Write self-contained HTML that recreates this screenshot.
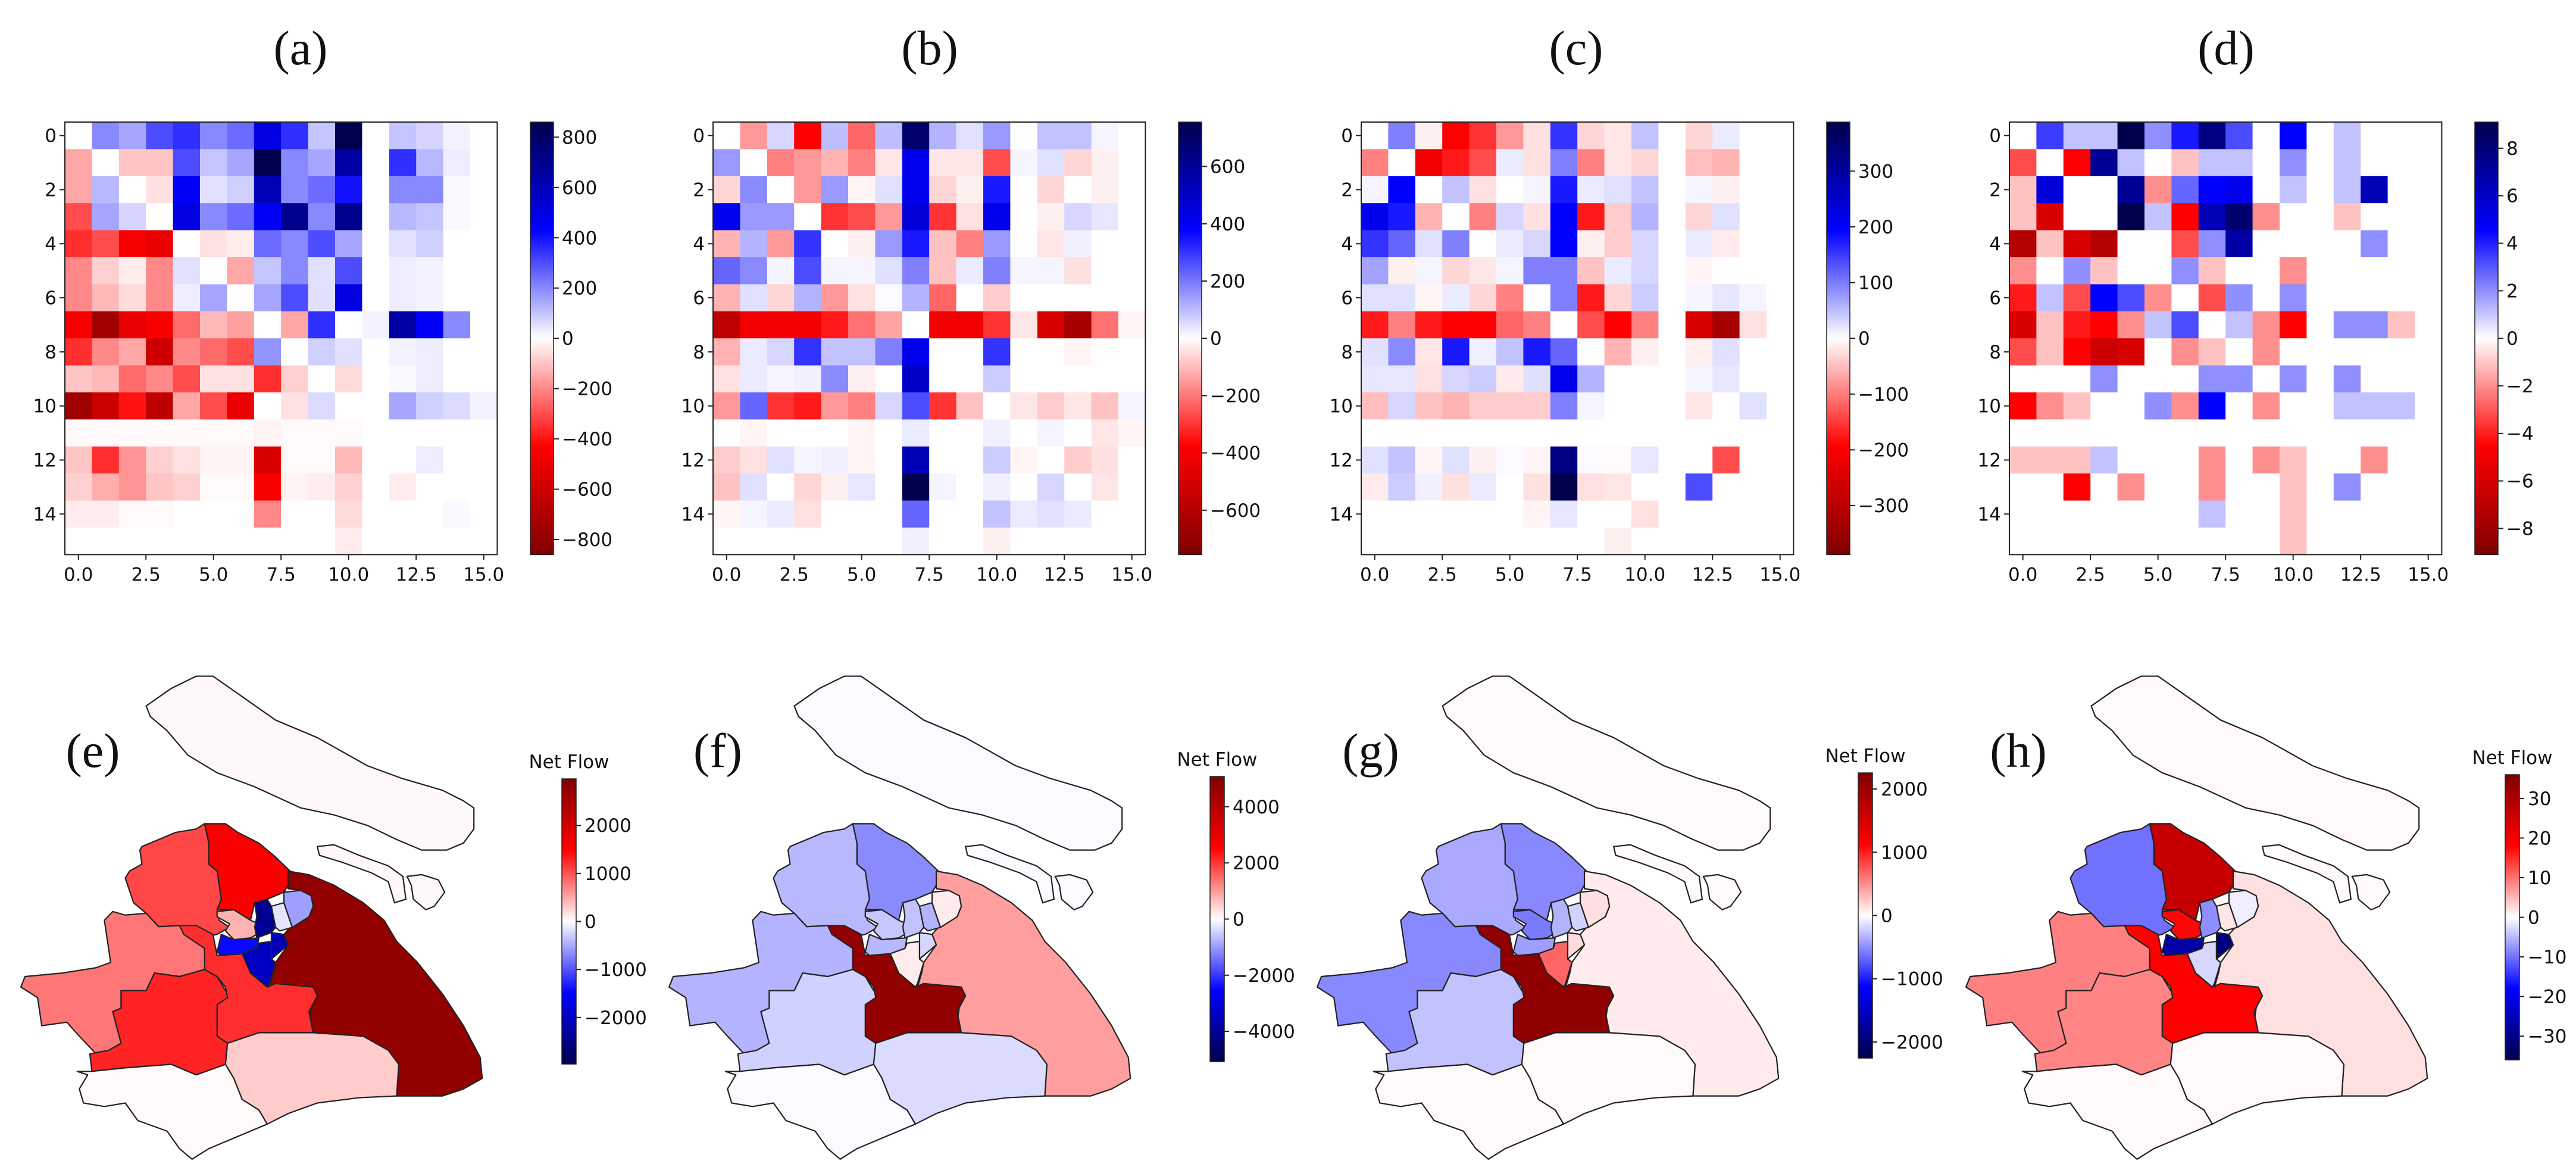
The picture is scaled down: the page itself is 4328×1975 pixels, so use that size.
<!DOCTYPE html>
<html><head><meta charset="utf-8">
<style>
html,body{margin:0;padding:0;background:#fff;}
svg{display:block;}
.t{font-family:"DejaVu Sans","Liberation Sans",sans-serif;font-size:31px;fill:#111;}
.ttl{font-family:"Liberation Serif",serif;font-size:82px;fill:#111;}
</style></head>
<body>
<svg id="fig" xmlns="http://www.w3.org/2000/svg" width="4328" height="1975" viewBox="0 0 4328 1975">
<defs id="defs"></defs>
<rect width="4328" height="1975" fill="#fff"/>
<g id="root"></g>
</svg>
<script>
// ---------- heatmap data (a in hundreds, b/c/d in tenths of colour max) ----------
const gridA = [
[0,2,1.5,3,3.5,2,2.5,5,3.5,1,8.5,0,1,0.7,0.2,0],
[-1.5,0,-1,-1,3,1,1.5,8.5,2,1.5,6.5,0,3.5,1.2,0.3,0],
[-1.5,1.2,0,-0.5,4.5,0.5,0.8,6,2,2.5,4,0,2,2,0.1,0],
[-3,1.5,0.7,0,5,2,2.5,4.5,7,2,7,0,1.2,1,0.1,0],
[-3.5,-3,-4.5,-5,0,-0.5,-0.3,2.5,2,3,1.5,0,0.5,0.8,0,0],
[-2,-0.8,-0.3,-2,0.5,0,-1.5,1,2,0.5,3,0,0.3,0.2,0,0],
[-2,-1.2,-0.6,-2,0.3,1.5,0,1.5,3,0.5,5,0,0.3,0.2,0,0],
[-4.5,-7.5,-5,-4.5,-2.5,-1.2,-1.6,0,-1.5,3.5,0,0.2,6.5,4.5,2,0],
[-3.5,-2,-1.5,-6,-2,-2.5,-3,1.8,0,0.8,0.5,0,0.2,0.3,0,0],
[-1,-1.2,-2.5,-2,-3,-0.5,-0.5,-3.5,-0.8,0,-0.6,0,0.1,0.3,0,0],
[-7.5,-6,-4,-6.5,-1.5,-3,-5,0,-0.5,0.6,0,0,1.5,0.8,0.6,0.2],
[-0.1,-0.1,-0.1,-0.1,-0.1,-0.1,-0.1,-0.2,-0.1,-0.1,-0.1,0,0,0,0,0],
[-1,-3.5,-1.8,-0.8,-0.5,-0.2,-0.2,-5.5,-0.1,-0.1,-1.2,0,0,0.3,0,0],
[-0.8,-1.4,-1.8,-1,-0.8,-0.1,-0.1,-4.5,-0.2,-0.3,-0.8,0,-0.3,0,0,0],
[-0.3,-0.3,-0.1,-0.1,0,0,0,-2,0,0,-0.6,0,0,0,0.1,0],
[0,0,0,0,0,0,0,0,0,0,-0.3,0,0,0,0,0]];
const gridB = [
[0,-2,0.8,-5,1.3,-3,1.3,9,1.5,0.6,2,0,1.2,1.2,0.2,0],
[2,0,-2.5,-2,-1.5,-2.5,-0.5,5.5,-0.5,-0.5,-3.5,0.2,0.6,-0.8,-0.3,0],
[-0.8,2.3,0,-2,2,-0.2,0.6,5.5,-0.8,-0.3,4.5,0,-0.8,0,-0.3,0],
[5.5,2,2,0,-4,-3.5,-2,6,-4,-0.6,5.5,0,-0.3,0.8,0.5,0],
[-1.5,1.5,-2,4,0,-0.3,2,4.5,-1.2,-2.5,2,0,-0.5,0.3,0,0],
[3,2.3,0.2,3.5,0.2,0.2,0.6,2.5,-1.2,0.4,2.5,0.2,0.2,-0.6,0,0],
[-1.5,0.6,-0.8,1.5,-2,-0.6,0.1,1.5,-3,0,-1,0,0,0,0,0],
[-7.5,-5.5,-5.5,-5.5,-4.5,-2.8,-1.8,0,-5.5,-5.5,-4,-0.5,-6.5,-8.5,-2.8,-0.2],
[-1.5,0.4,0.8,4,1.2,1.2,2.5,5.5,0,0,4,0,0,-0.2,0,0],
[-0.6,0.4,0.2,0.3,2.3,-0.3,0,6.5,0,0,1,0,0,0,0,0],
[-2,3,-4,-4.5,-2,-2.5,0.8,3.5,-4,-1.2,0,-0.5,-1,-0.5,-1.2,0.2],
[0,-0.2,0,0,0,-0.2,0,0.4,0,0,0.3,0,0.2,0,-0.5,-0.2],
[-1,-0.6,0.6,0.2,0.3,-0.2,0,7,0,0,1,-0.2,0,-1,-0.6,0],
[-1.2,0.6,0,-0.8,-0.3,0.5,0,10,0.2,0,0.3,0,0.8,0,-0.5,0],
[-0.2,0.2,0.4,-0.6,0,0,0,3,0,0,1.2,0.4,0.6,0.4,0,0],
[0,0,0,0,0,0,0,0.3,0,0,-0.3,0,0,0,0,0]];
const gridC = [
[0,2.5,-0.3,-5,-4,-2,-0.6,4,-0.8,-0.5,1.2,0,-0.8,0.4,0,0],
[-2.5,0,-5.5,-4.5,-3.5,0.4,-0.6,2.5,-2.5,-0.5,-0.8,0,-1.3,-1.5,0,0],
[0.2,5,0,1.2,-0.6,0,0.2,4.5,0.4,0.6,1.2,0,0.2,-0.3,0,0],
[5.5,4.5,-1.5,0,-2.5,0.8,-0.6,5,-4.5,-1,1.5,0,-0.8,0.6,0,0],
[4,3,0.6,2.5,0,0.4,0.8,5,-0.3,-1,0.8,0,0.4,-0.4,0,0],
[1.8,-0.3,0.2,-0.8,-0.5,0.2,2.5,2.5,-1.2,0.4,0.8,0,-0.2,0,0,0],
[0.6,0.6,-0.2,0.4,-0.8,-2.5,0,2.5,-4.5,-0.8,1,0,0.2,0.5,0.2,0],
[-4.5,-2.5,-4.5,-5,-5,-3,-2.5,0,-3.5,-5,-2.5,0,-6.5,-8.5,-0.6,0],
[0.6,2.3,-0.5,4.5,0.3,1.2,4.5,3,0,-1.5,-0.3,0,-0.3,0.6,0,0],
[0.5,0.5,-0.6,0.8,1,-0.4,0.6,5.5,1.5,0,0,0,0.2,0.5,0,0],
[-1.3,0.8,-1.2,-1.5,-1,-1,-1,2.5,0.2,0,0,0,-0.5,0,0.6,0],
[0,0,0,0,0,0,0,0,0,0,0,0,0,0,0,0],
[0.6,1.2,-0.2,0.6,-0.3,0.1,-0.2,8.5,0.1,-0.1,0.5,0,0,-3.5,0,0],
[-0.4,1,0.3,-0.6,0.4,0,-0.6,10,-0.6,-0.5,0,0,3.5,0,0,0],
[0,0,0,0,0,0,-0.2,0.5,0,0,-0.6,0,0,0,0,0],
[0,0,0,0,0,0,0,0,0,-0.3,0,0,0,0,0,0]];
const gridD = [
[0,3.8,1.2,1.2,10,2.2,4.5,8.5,3.5,0,5,0,1.2,0,0,0],
[-3.5,0,-5,8,1.2,0,-1.2,1.2,1.2,0,2.2,0,1.2,0,0,0],
[-1.2,6,0,0,8,-2.2,3,5,5.5,0,1.2,0,1.2,7,0,0],
[-1.2,-6.5,0,0,10,1.2,-5,7,9,-2.2,0,0,-1.2,0,0,0],
[-8,-1.2,-6.5,-8,0,0,-3.5,2.2,7.5,0,0,0,0,2.2,0,0],
[-2.2,0,2.2,-1.2,0,0,2.2,-1.2,0,0,-2.2,0,0,0,0,0],
[-4.5,1.2,-3.5,5,3.5,-2.2,0,-3.5,2.2,0,2.2,0,0,0,0,0],
[-6.5,-1.2,-4.5,-5,-2.2,1.2,3.5,0,1.2,-2.2,-5,0,2.2,2.2,-1.2,0],
[-3.5,-1.2,-5,-7,-6.5,0,-2.2,-1.2,0,-2.2,0,0,0,0,0,0],
[0,0,0,2.2,0,0,0,2.2,2.2,0,2.2,0,2.2,0,0,0],
[-5,-2.2,-1.2,0,0,2.2,-2.2,5,0,-2.2,0,0,1.2,1.2,1.2,0],
[0,0,0,0,0,0,0,0,0,0,0,0,0,0,0,0],
[-1.2,-1.2,-1.2,1.2,0,0,0,-2.2,0,-2.2,-1.2,0,0,-2.2,0,0],
[0,0,-5,0,-2.2,0,0,-2.2,0,0,-1.2,0,2.2,0,0,0],
[0,0,0,0,0,0,0,1.2,0,0,-1.2,0,0,0,0,0],
[0,0,0,0,0,0,0,0,0,0,-1.2,0,0,0,0,0]];
const heatLabels = ["(a)","(b)","(c)","(d)"];
const heatUnits = [100, 75.5, 38.8, 0.91];
const heatVmax = [860, 755, 388, 9.1];
const heatTicksA = [800,600,400,200,0,-200,-400,-600,-800];
const heatTicksB = [600,400,200,0,-200,-400,-600];
const heatTicksC = [300,200,100,0,-100,-200,-300];
const heatTicksD = [8,6,4,2,0,-2,-4,-6,-8];
const xTickVals = [0,2.5,5,7.5,10,12.5,15];
const yTickVals = [0,2,4,6,8,10,12,14];

// ---------- map data (net flow) ----------
const districts = ["chongming","baoshan","jiading","pudong","qingpu","songjiang","minhang","fengxian","jinshan","putuo","changning","xuhui","huangpu","jingan","hongkou","yangpu"];
const flowE = [40,1540,1070,2760,800,1280,1220,300,30,450,-1430,-1990,-2080,-2380,-150,-560];
const flowF = [-50,-1170,-710,970,-760,-460,4720,-360,-50,-560,-710,200,-410,-610,-760,200];
const flowG = [20,-520,-380,90,-520,-270,2100,20,20,-590,-430,680,160,-340,-200,140];
const flowH = [0.4,26,-10,2.2,9,8.6,18,0.4,0.4,17.6,-27,-2.9,-31,-8,1.8,-1.1];
const mapLabels = ["(e)","(f)","(g)","(h)"];
const mapVmax = [2970, 5080, 2255, 36];
const mapTicksE = [2000,1000,0,-1000,-2000];
const mapTicksF = [4000,2000,0,-2000,-4000];
const mapTicksG = [2000,1000,0,-1000,-2000];
const mapTicksH = [30,20,10,0,-10,-20,-30];

const NS="http://www.w3.org/2000/svg";
const root=document.getElementById('root');
const defs=document.getElementById('defs');
function el(tag,attrs,parent){const e=document.createElementNS(NS,tag);for(const k in attrs)e.setAttribute(k,attrs[k]);(parent||root).appendChild(e);return e;}
function seis(f){
  f=Math.max(-1,Math.min(1,f));let r,g,b;
  if(f>=0){ if(f<=0.5){const t=f/0.5;r=1;g=1-t;b=1-t;} else {const t=(f-0.5)/0.5;r=1-0.5*t;g=0;b=0;} }
  else { const a=-f; if(a<=0.5){const t=a/0.5;r=1-t;g=1-t;b=1;} else {const t=(a-0.5)/0.5;r=0;g=0;b=1-0.7*t;} }
  return `rgb(${Math.round(r*255)},${Math.round(g*255)},${Math.round(b*255)})`;
}
function gradient(id,positiveRed){
  const lg=el('linearGradient',{id:id,x1:0,y1:0,x2:0,y2:1},defs);
  for(let i=0;i<=20;i++){const f=1-i/10;el('stop',{offset:(i/20),'stop-color':seis(positiveRed?f:-f)},lg);}
}
gradient('gHeat',false);gradient('gMap',true);

// ---------- heatmaps ----------
const grids=[gridA,gridB,gridC,gridD];
const heatTicks=[heatTicksA,heatTicksB,heatTicksC,heatTicksD];
const frameLefts=[109,1198,2287,3376];
const titleOff=[396,364,361,364];
const TOP=205, CELL=45.4, N=16;
function hx(L,v){return L+(v+0.5)*CELL;}
function hy(v){return TOP+(v+0.5)*CELL;}
for(let p=0;p<4;p++){
  const L=frameLefts[p];
  const g=el('g',{});
  
  
  const tt=el('text',{x:L+titleOff[p],y:108,'text-anchor':'middle',class:'ttl'},g);
  tt.textContent=heatLabels[p];
  
  
  const grid=grids[p];
  for(let r=0;r<N;r++)for(let c=0;c<N;c++){
    const v=grid[r][c]*heatUnits[p];
    const rc=el('rect',{x:hx(L,c)-CELL/2,y:hy(r)-CELL/2,width:CELL+0.6,height:CELL+0.6,fill:seis(-v/heatVmax[p])},g);
    
    
  }
  const fr=el('rect',{x:L,y:TOP,width:CELL*N,height:CELL*N,fill:'none',stroke:'#222','stroke-width':2},g);
  
  
  xTickVals.forEach(v=>{
    const x=hx(L,v);
    el('line',{x1:x,y1:TOP+CELL*N,x2:x,y2:TOP+CELL*N+9,stroke:'#222','stroke-width':2},g);
    const t=el('text',{x:x,y:TOP+CELL*N+44,'text-anchor':'middle',class:'t'},g);
    t.textContent=v.toFixed(1);
    
    
  });
  yTickVals.forEach(v=>{
    const y=hy(v);
    el('line',{x1:L-9,y1:y,x2:L,y2:y,stroke:'#222','stroke-width':2},g);
    const t=el('text',{x:L-14,y:y+11,'text-anchor':'end',class:'t'},g);
    t.textContent=String(v);
    
    
  });
  const cbx=L+782, cbw=39, cbh=CELL*N, vm=heatVmax[p];
  const cb=el('rect',{x:cbx,y:TOP,width:cbw,height:cbh,fill:'url(#gHeat)',stroke:'#222','stroke-width':1.5},g);
  
  
  heatTicks[p].forEach(v=>{
    const y=TOP+cbh/2-(v/vm)*cbh/2;
    el('line',{x1:cbx+cbw,y1:y,x2:cbx+cbw+9,y2:y,stroke:'#222','stroke-width':2},g);
    const t=el('text',{x:cbx+cbw+14,y:y+11,class:'t'},g);
    t.textContent=(v<0?'\u2212'+(-v):String(v));
    
    
  });
}

// ---------- maps ----------
const shapes={
chongming:"350,230 410,180 470,145 510,145 600,220 660,270 760,320 880,400 960,435 1060,470 1110,500 1135,520 1135,580 1110,620 1070,640 1010,640 950,610 880,570 800,540 720,520 610,460 520,420 450,370 400,300 360,260",
changxing:"760,630 800,625 860,655 930,685 965,715 972,780 945,790 930,730 890,705 820,675 765,655",
hengsha:"975,715 1010,710 1050,725 1065,760 1040,800 1020,810 990,780 985,740",
baoshan:"490,565 540,565 570,590 620,620 660,660 695,700 690,740 680,760 640,780 610,790 600,840 560,810 520,810 530,780 520,700 500,680 500,620",
jiading:"340,630 420,590 470,580 490,565 500,620 500,680 520,700 530,780 520,810 525,840 550,860 520,880 500,885 470,860 430,855 380,858 350,820 320,790 300,720 310,700 340,680 335,640",
pudong:"690,700 740,710 800,740 870,790 920,840 950,900 1000,960 1060,1050 1110,1140 1150,1230 1155,1290 1110,1320 1060,1340 950,1340 955,1250 930,1210 870,1170 750,1160 740,1130 750,1050 660,1020 645,1030 655,990 660,960 690,910 680,880 695,860 740,830 750,800 745,770 720,755 690,750",
qingpu:"250,840 270,815 300,825 350,820 380,858 430,855 470,860 500,885 510,970 490,980 430,1000 370,990 350,1040 290,1040 290,1090 270,1100 290,1190 260,1210 230,1220 190,1170 160,1130 100,1140 90,1060 50,1030 60,1000 150,990 230,975 265,960",
songjiang:"290,1040 350,1040 370,990 430,1000 490,980 520,1000 540,1040 555,1060 545,1190 540,1250 470,1280 410,1250 300,1260 220,1270 215,1220 260,1210 290,1190 270,1100 290,1090",
minhang:"430,855 470,855 510,880 520,940 580,935 600,990 640,1030 660,1020 750,1030 760,1055 740,1100 750,1160 620,1160 545,1190 520,1170 520,1080 545,1060 540,1030 520,1000 490,980 490,920 440,880",
fengxian:"545,1190 620,1160 750,1160 870,1170 930,1210 955,1250 950,1340 860,1345 760,1360 690,1390 640,1420 620,1380 580,1350 560,1290 540,1250",
jinshan:"220,1270 300,1260 410,1250 470,1280 540,1250 560,1290 580,1350 620,1380 640,1420 580,1450 500,1490 460,1520 430,1490 400,1440 330,1410 300,1360 250,1370 200,1360 190,1320 210,1280 185,1270",
putuo:"520,815 560,810 600,840 620,850 630,870 600,890 560,895 540,870 550,850 520,830",
changning:"530,880 560,895 620,890 615,920 580,935 530,940 520,930",
xuhui:"620,905 650,900 650,950 660,960 645,1020 640,1030 620,1010 600,990 580,935 615,920",
huangpu:"650,875 680,880 690,910 660,940 650,950 650,900",
jingan:"610,790 640,780 650,800 660,860 650,875 615,890 610,860 615,830",
hongkou:"650,800 680,790 700,860 670,870 660,860",
yangpu:"680,760 720,755 745,770 750,800 740,830 700,860 680,790"};
const flows=[flowE,flowF,flowG,flowH];
const mapTicks=[mapTicksE,mapTicksF,mapTicksG,mapTicksH];
const mapOff=[0,1089,2178,3268];
const labelX=[156,1206,2303,3391];
const cbTop=[1308,1304,1298,1301];
for(let p=0;p<4;p++){
  const g=el('g',{});
  
  
  const mg=el('g',{transform:`translate(${mapOff[p]},1050) scale(0.7015,0.59)`},g);
  districts.forEach((d,i)=>{
    const v=flows[p][i];
    const poly=el('polygon',{points:shapes[d],fill:seis(v/mapVmax[p]),stroke:'#222','stroke-width':2.2,'vector-effect':'non-scaling-stroke','stroke-linejoin':'round'},mg);
    
    
    if(d==='chongming'){
      ['changxing','hengsha'].forEach(s=>{
        const q=el('polygon',{points:shapes[s],fill:seis(v/mapVmax[p]),stroke:'#222','stroke-width':2.2,'vector-effect':'non-scaling-stroke'},mg);
        
        
      });
    }
  });
  const lt=el('text',{x:labelX[p],y:1288,'text-anchor':'middle',class:'ttl'},g);
  lt.textContent=mapLabels[p];
  
  
  const cbx=mapOff[p]+944+(p===3?-3:0), cbw=24, top=cbTop[p], h=479, vm=mapVmax[p];
  const nt=el('text',{x:cbx+12,y:top-18,'text-anchor':'middle',class:'t','font-size':'34'},g);
  nt.textContent='Net Flow';
  
  
  const cb=el('rect',{x:cbx,y:top,width:cbw,height:h,fill:'url(#gMap)',stroke:'#222','stroke-width':1.5},g);
  
  
  mapTicks[p].forEach(v=>{
    const y=top+h/2-(v/vm)*h/2;
    el('line',{x1:cbx+cbw,y1:y,x2:cbx+cbw+8,y2:y,stroke:'#222','stroke-width':2},g);
    const t=el('text',{x:cbx+cbw+14,y:y+11,class:'t'},g);
    t.textContent=(v<0?'\u2212'+(-v):String(v));
    
    
  });
}
</script>
</body></html>
